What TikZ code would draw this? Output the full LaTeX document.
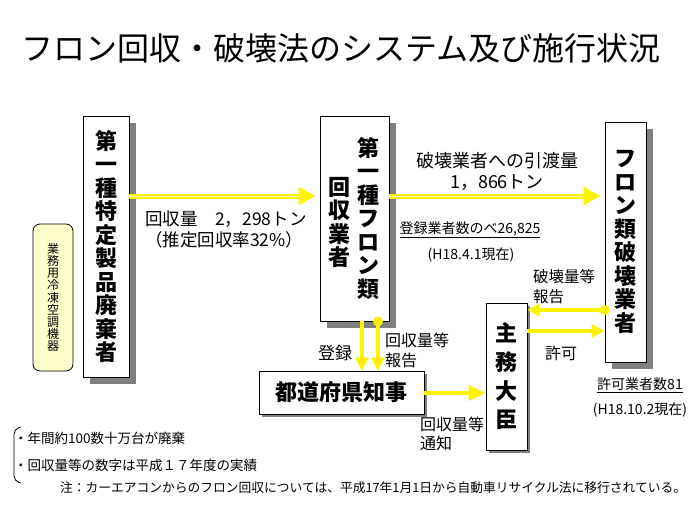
\documentclass[tikz,border=0pt]{standalone}
\usepackage{fontspec}
\setmainfont{Noto Sans CJK JP}
\usetikzlibrary{arrows.meta,shadows}
\definecolor{cream}{HTML}{FFFFCC}
\tikzset{
  boxbase/.style={draw,line width=0.8pt,fill=white,inner sep=0pt,align=center},
  box/.style={boxbase,drop shadow={shadow xshift=7pt,shadow yshift=-7pt,fill=gray,opacity=1}},
  smallbox/.style={boxbase,drop shadow={shadow xshift=3pt,shadow yshift=-3pt,fill=gray,opacity=1}},
  vtext/.style={align=center,inner sep=0pt,font=\fontsize{22}{23.5}\selectfont\bfseries},
  lbl/.style={inner sep=0pt,align=left,font=\fontsize{#1}{#1}\selectfont},
  yarrow/.style={draw=yellow,line width=3.3,-{Triangle[length=13pt,width=13pt]}},
  bigarrow/.style={draw=yellow,line width=5,-{Triangle[length=17pt,width=17pt]},shorten >=4pt,
    postaction={draw=yellow!25,line width=1,-,shorten >=21pt}}
}
\begin{document}
\begin{tikzpicture}[x=1pt,y=-1pt]
   \useasboundingbox (0,0) rectangle (700,525);
   %title
   \node[inner sep=0pt,font=\fontsize{32}{32}\selectfont] (title) at (341,48) {フロン回収・破壊法のシステム及び施行状況};
   %boxes
   \node[draw,line width=0.8pt,rounded corners=7pt,fill=cream,minimum width=40,minimum height=147,
     inner sep=0pt,align=center,font=\fontsize{12}{12.1}\selectfont] (kiki) at (53,297.5)
     {業\\務\\用\\冷\\凍\\空\\調\\機\\器};
   \node[box,vtext,minimum width=46,minimum height=261] (haikisha) at (106,246.5)
     {第\\一\\種\\特\\定\\製\\品\\廃\\棄\\者};
   \node[box,minimum width=69,minimum height=205] (kaishu) at (354.5,218.5) {};
   \node[vtext] (kaishuR) at (368,218.5) {第\\一\\種\\フ\\ロ\\ン\\類};
   \node[vtext] (kaishuL) at (339,222.5) {回\\収\\業\\者};
   \node[box,vtext,minimum width=41,minimum height=240] (hakai) at (625.5,242)
     {フ\\ロ\\ン\\類\\破\\壊\\業\\者};
   \node[smallbox,vtext,minimum width=41,minimum height=147,font=\fontsize{22}{28.7}\selectfont\bfseries] (daijin) at (506.5,376.5)
     {主\\務\\大\\臣};
   \node[smallbox,minimum width=165,minimum height=43,font=\fontsize{22}{22}\selectfont\bfseries] (chiji) at (341.5,392.5)
     {都道府県知事};
   %rows and columns of the arrows
   \coordinate (r1) at (0,196);
   \coordinate (r2) at (0,310);
   \coordinate (r3) at (0,331);
   \coordinate (r4) at (0,393);
   \coordinate (c1) at (362,0);
   \coordinate (c2) at (378,0);
   %arrows
   \draw[bigarrow] (haikisha.east |- r1) -- (kaishu.west |- r1);
   \draw[bigarrow] (kaishu.east |- r1) -- (hakai.west |- r1);
   \draw[yarrow] (kaishu.south -| c1) -- (chiji.north -| c1);
   \fill[yellow] (kaishu.south -| c2) circle (5);
   \draw[yarrow] (kaishu.south -| c2) -- (chiji.north -| c2);
   \fill[yellow] (hakai.west |- r2) circle (5);
   \draw[yarrow,-{Triangle[length=12pt,width=12pt]}] (hakai.west |- r2) -- (daijin.east |- r2);
   \draw[yarrow] (daijin.east |- r3) -- (hakai.west |- r3);
   \draw[yarrow,line width=4,-{Triangle[length=17pt,width=15pt]}] (chiji.east |- r4) -- (daijin.west |- r4);
   %labels
   \node[lbl=17.5,anchor=west,font=\fontsize{17.5}{21}\selectfont] (kaishuryo) at (145,229.5)
     {回収量　2，298トン\\（推定回収率32\%）};
   \node[lbl=18,align=center,font=\fontsize{18}{21}\selectfont] (hikiwatashi) at (497,171.5)
     {破壊業者への引渡量\\1，866トン};
   \node[lbl=14] (toroku) at (470,230) {\underline{登録業者数のべ26,825}};
   \node[lbl=14] (toroku2) at (471,255) {(H18.4.1現在)};
   \node[lbl=15.5,anchor=west,font=\fontsize{15.5}{20}\selectfont] (hakaiho) at (533,287) {破壊量等\\報告};
   \node[lbl=16] (kyoka) at (561,353) {許可};
   \node[lbl=14] (kyokasu) at (640,385) {\underline{許可業者数81}};
   \node[lbl=14] (kyokasu2) at (640,410) {(H18.10.2現在)};
   \node[lbl=17] (torokuL) at (335,353) {登録};
   \node[lbl=16,anchor=west,font=\fontsize{16}{20}\selectfont] (kaishuho) at (385,350) {回収量等\\報告};
   \node[lbl=16,anchor=west,font=\fontsize{16}{19}\selectfont] (tsuchi) at (420,434) {回収量等\\通知};
   %notes
   \draw[line width=0.8,rounded corners=5] (21,427) -- (14,429) -- (14,481) -- (21,483);
   \node[lbl=13.5,anchor=west] (note1) at (14,438) {・年間約100数十万台が廃棄};
   \node[lbl=13.5,anchor=west] (note2) at (14,465) {・回収量等の数字は平成１７年度の実績};
   \node[lbl=12.75,anchor=west] (note3) at (60,488)
     {注：カーエアコンからのフロン回収については、平成17年1月1日から自動車リサイクル法に移行されている。};
\end{tikzpicture}
\end{document}
